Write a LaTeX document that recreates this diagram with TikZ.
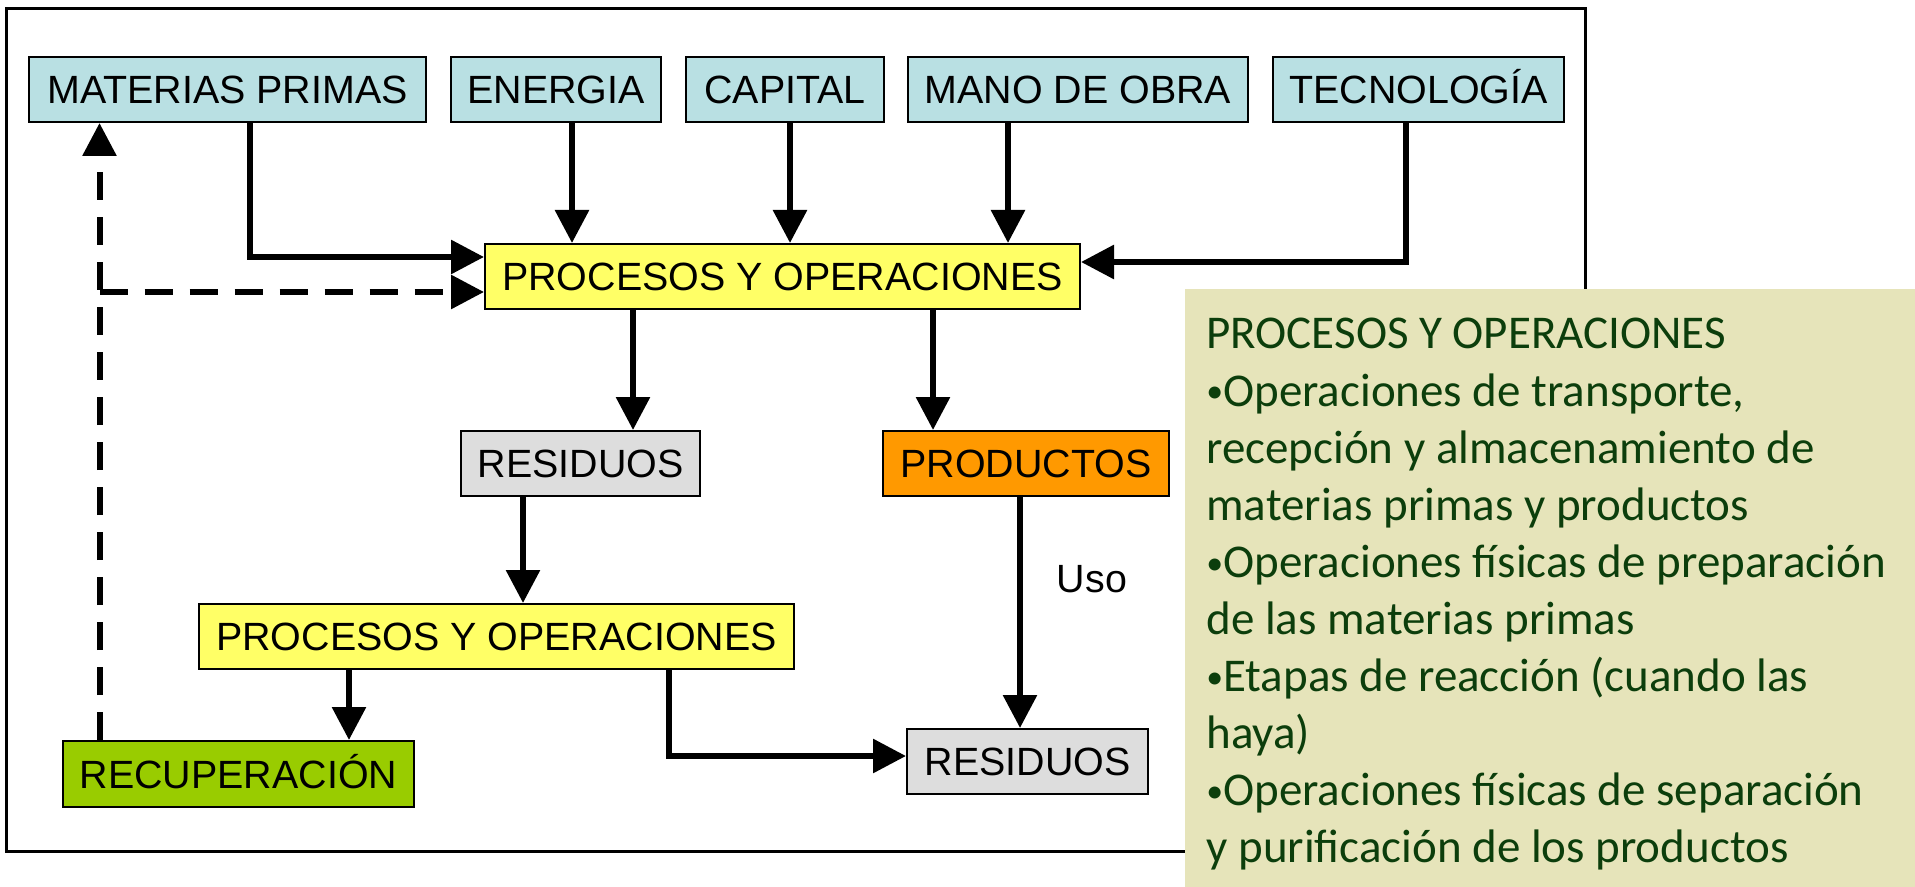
\documentclass[tikz,border=0pt]{standalone}
\usepackage{fontspec}
\usepackage{graphicx}
\setmainfont{Liberation Sans}
\newfontfamily\califont{Carlito}
\usetikzlibrary{arrows.meta,calc}
\definecolor{boxblue}{RGB}{185,224,227}
\definecolor{boxyellow}{RGB}{255,255,102}
\definecolor{boxgrey}{RGB}{221,221,221}
\definecolor{boxorange}{RGB}{255,153,0}
\definecolor{boxgreen}{RGB}{153,204,0}
\definecolor{notebg}{RGB}{230,228,186}
\definecolor{notetext}{RGB}{12,62,12}
\newcommand{\nbul}{\raisebox{0.07em}{\scalebox{0.72}{•}}}
\begin{document}
\begin{tikzpicture}[x=0.5pt,y=-0.5pt,
  box/.style={draw=black,line width=1pt,inner sep=0pt,minimum height=32.5pt,
    text height=14.1pt,text depth=0pt,font=\fontsize{19.7}{22}\selectfont},
  arr/.style={line width=3pt,-{Triangle[length=16.5pt,width=16.5pt]}},
  darr/.style={arr,dash pattern=on 14pt off 8.5pt},
  noteline/.style={anchor=base west,inner sep=0pt,text=notetext,
    font=\califont\fontsize{23.5}{28.5}\selectfont}]
\useasboundingbox (0,0) rectangle (1915,887);
% frame
\draw[line width=1.5pt] (6,8.5) rectangle (1585,851);
% side note background
\fill[notebg] (1185,289) rectangle (1915,887);
% boxes
\node[box,fill=boxblue,minimum width=198.5pt] (MP) at (227.5,89.5) {MATERIAS PRIMAS};
\node[box,fill=boxblue,minimum width=105pt] (EN) at (556,89.5) {ENERGIA};
\node[box,fill=boxblue,minimum width=99pt] (CA) at (785,89.5) {CAPITAL};
\node[box,fill=boxblue,minimum width=170pt] (MO) at (1078,89.5) {MANO DE OBRA};
\node[box,fill=boxblue,minimum width=145.5pt] (TE) at (1418.5,89.5) {TECNOLOGÍA};
\node[box,fill=boxyellow,minimum width=297.5pt] (PO1) at (782.5,276.5) {PROCESOS Y OPERACIONES};
\node[box,fill=boxgrey,minimum width=119.5pt] (RES1) at (580.5,463.5) {RESIDUOS};
\node[box,fill=boxorange,minimum width=143pt] (PROD) at (1026,463.5) {PRODUCTOS};
\node[box,fill=boxyellow,minimum width=297.5pt] (PO2) at (496.5,636.5) {PROCESOS Y OPERACIONES};
\node[box,fill=boxgreen,minimum width=175.5pt,minimum height=33pt] (RECUP) at (238.5,774) {RECUPERACIÓN};
\node[box,fill=boxgrey,minimum width=120.5pt] (RES2) at (1027.5,761.5) {RESIDUOS};
\node[inner sep=0pt,text height=14.1pt,text depth=0pt,font=\fontsize{19.7}{22}\selectfont] (USO) at (1092,578) {Uso};
% connector helper coordinates
\coordinate (xMP) at (250,0);
\coordinate (xEN) at (572,0);
\coordinate (xCA) at (790,0);
\coordinate (xMO) at (1008,0);
\coordinate (xTE) at (1406,0);
\coordinate (xR1) at (633,0);
\coordinate (xPR) at (933,0);
\coordinate (xP2) at (523,0);
\coordinate (xRC) at (349,0);
\coordinate (xRS) at (669,0);
\coordinate (xUS) at (1020,0);
\coordinate (xDS) at (99.5,0);
\coordinate (yMP) at (0,257);
\coordinate (yTE) at (0,262);
\coordinate (yDS) at (0,292);
\coordinate (yRS) at (0,756);
% connectors
\draw[arr] (MP.south -| xMP) |- (PO1.west |- yMP);
\draw[darr] (RECUP.north -| xDS) -- (MP.south -| xDS);
\draw[darr] (xDS |- yDS) -- (PO1.west |- yDS);
\draw[arr] (EN.south -| xEN) -- (PO1.north -| xEN);
\draw[arr] (CA.south -| xCA) -- (PO1.north -| xCA);
\draw[arr] (MO.south -| xMO) -- (PO1.north -| xMO);
\draw[arr] (TE.south -| xTE) |- (PO1.east |- yTE);
\draw[arr] (PO1.south -| xR1) -- (RES1.north -| xR1);
\draw[arr] (PO1.south -| xPR) -- (PROD.north -| xPR);
\draw[arr] (RES1.south -| xP2) -- (PO2.north -| xP2);
\draw[arr] (PO2.south -| xRC) -- (RECUP.north -| xRC);
\draw[arr] (PO2.south -| xRS) |- (RES2.west |- yRS);
\draw[arr] (PROD.south -| xUS) -- (RES2.north -| xUS);
% side note text
\node[noteline] (n1) at (1206,349) {PROCESOS Y OPERACIONES};
\node[noteline] (n2) at (1206,406.1) {\nbul Operaciones de transporte,};
\node[noteline] (n3) at (1206,463.2) {recepción y almacenamiento de};
\node[noteline] (n4) at (1206,520.3) {materias primas y productos};
\node[noteline] (n5) at (1206,577.4) {\nbul Operaciones físicas de preparación};
\node[noteline] (n6) at (1206,634.5) {de las materias primas};
\node[noteline] (n7) at (1206,691.6) {\nbul Etapas de reacción (cuando las};
\node[noteline] (n8) at (1206,748.7) {haya)};
\node[noteline] (n9) at (1206,805.8) {\nbul Operaciones físicas de separación};
\node[noteline] (n10) at (1206,862.9) {y purificación de los productos};
\end{tikzpicture}
\end{document}
